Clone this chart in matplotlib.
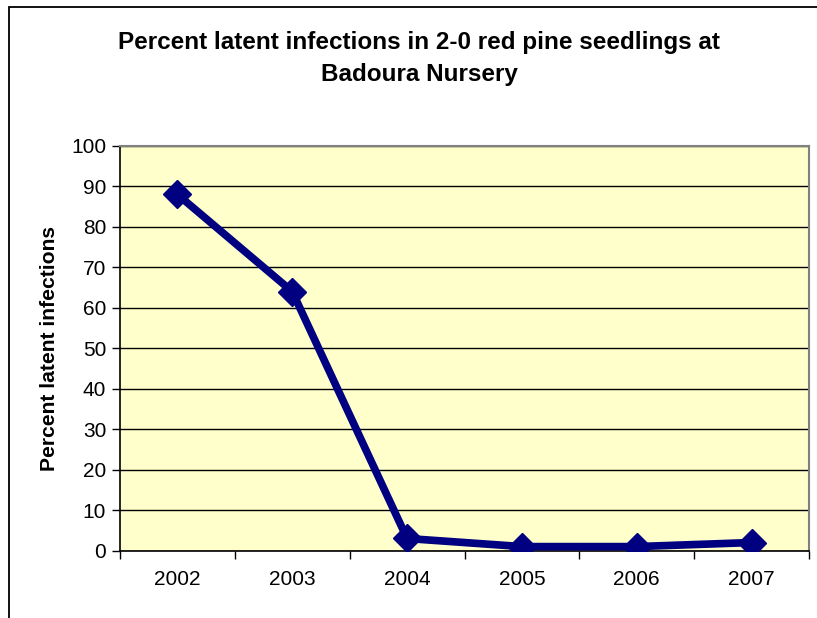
#imports required libraries
import numpy as np
import matplotlib
matplotlib.use('Agg')
import matplotlib.pyplot as plt
from matplotlib.patches import Rectangle

#data
years = ['2002', '2003', '2004', '2005', '2006', '2007']
infections = [88, 64, 3, 1, 1, 2]
yticks = [0, 10, 20, 30, 40, 50, 60, 70, 80, 90, 100]

plt.rcParams['font.family'] = ['Liberation Sans', 'DejaVu Sans']

#create figure and plot area
fig = plt.figure(figsize=(8.17, 6.18), dpi=100)
ax = fig.add_axes([0.1469, 0.109, 0.8433, 0.655])
ax.set_facecolor('#FFFFCC')

#outer chart border (only left and top edges are visible)
fig.patches.append(Rectangle((9/817, -0.2), 1.2, 1.2 - 7/618, transform=fig.transFigure,
                             fill=False, edgecolor='black', linewidth=1.3, zorder=0))

#grid lines
x = np.arange(len(years))
ax.set_ylim(0, 100)
ax.set_xlim(-0.5, len(years) - 0.5)
ax.set_yticks(yticks)
ax.yaxis.grid(True, color='black', linewidth=1.0)
ax.set_axisbelow(True)

#the data line
ax.plot(x, infections, color='#000080', linewidth=5.5, marker='D', markersize=14,
        markeredgewidth=1, markeredgecolor='#000080', solid_joinstyle='round', zorder=3)

#axis ticks: categories labelled at centres, tick marks at boundaries
ax.set_xticks(x)
ax.set_xticklabels(years, fontsize=15)
ax.tick_params(axis='x', length=0, pad=14)
ax.set_xticks(np.arange(len(years) + 1) - 0.5, minor=True)
ax.tick_params(axis='x', which='minor', length=6, width=1, direction='out')
ax.tick_params(axis='y', length=6, width=1, labelsize=15, pad=4)

#spines
for s in ['left', 'bottom']:
    ax.spines[s].set_color('black')
    ax.spines[s].set_linewidth(1.2)
for s in ['top', 'right']:
    ax.spines[s].set_color('#808080')
    ax.spines[s].set_linewidth(1.5)

#titles
fig.text(0.513, 0.906, 'Percent latent infections in 2-0 red pine seedlings at\nBadoura Nursery',
         ha='center', va='center', fontsize=17.5, fontweight='bold', linespacing=1.5)
ax.set_ylabel('Percent latent infections', fontsize=15.2, fontweight='bold', labelpad=9)

fig.savefig('out.png', dpi=100)
